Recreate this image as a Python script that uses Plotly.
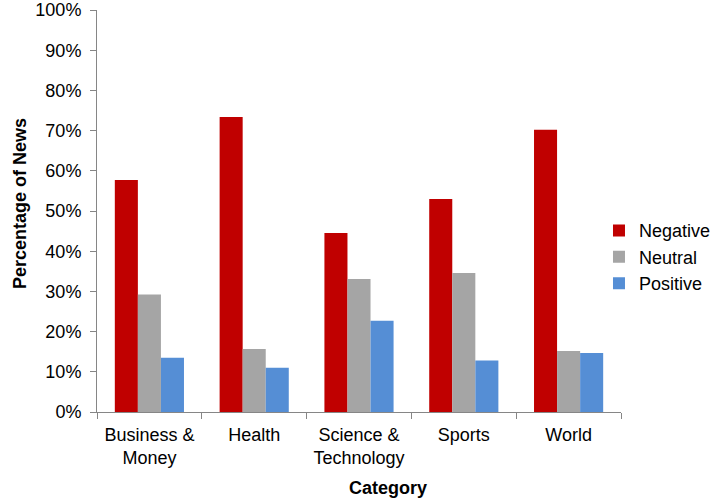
import plotly.graph_objects as go

# values (fractions of news per category)
categories = ["Business &<br>Money", "Health", "Science &<br>Technology", "Sports", "World"]
negative = [0.577, 0.734, 0.445, 0.530, 0.702]
neutral = [0.292, 0.157, 0.331, 0.346, 0.152]
positive = [0.135, 0.110, 0.227, 0.128, 0.147]

series = [
    ("Negative", negative, "#C00000"),
    ("Neutral", neutral, "#A5A5A5"),
    ("Positive", positive, "#558ED5"),
]

FONT = "Liberation Sans, Arial, sans-serif"
AXIS_COLOR = "#868686"

fig = go.Figure()
for name, values, color in series:
    fig.add_trace(go.Bar(name=name, x=categories, y=values, marker_color=color, marker_line_width=0))

fig.update_layout(
    width=716,
    height=503,
    margin=dict(l=97, r=95, t=10, b=91, autoexpand=False),
    paper_bgcolor="white",
    plot_bgcolor="white",
    barmode="group",
    bargap=0.34,
    bargroupgap=0,
    font=dict(family=FONT, size=18, color="black"),
    legend=dict(
        x=0.958,
        xanchor="left",
        y=0.385,
        yanchor="middle",
        font=dict(size=18),
        itemwidth=30,
        tracegroupgap=0,
    ),
    annotations=[
        dict(
            text="<b>Percentage of News</b>",
            xref="paper", yref="paper",
            x=-0.147, y=0.52,
            xanchor="center", yanchor="middle",
            textangle=-90,
            showarrow=False,
            font=dict(size=18),
        ),
        dict(
            text="<b>Category</b>",
            xref="paper", yref="paper",
            x=0.555, y=-0.19,
            xanchor="center", yanchor="middle",
            showarrow=False,
            font=dict(size=18),
        ),
    ],
)

fig.update_yaxes(
    range=[0, 1],
    dtick=0.1,
    tickformat=".0%",
    showgrid=False,
    zeroline=False,
    showline=True,
    linecolor=AXIS_COLOR,
    ticks="outside",
    ticklen=6,
    tickcolor=AXIS_COLOR,
    ticklabelstandoff=5,
    automargin=False,
)
fig.update_xaxes(
    showgrid=False,
    showline=True,
    linecolor=AXIS_COLOR,
    ticks="outside",
    tickson="boundaries",
    ticklen=6,
    tickcolor=AXIS_COLOR,
    ticklabelstandoff=6,
    automargin=False,
)

# drop the browser's default body margin so the figure sits at the page corner
fig.write_html(
    "out.html",
    config={"displayModeBar": False},
    post_script="document.body.style.margin = '0';",
)
